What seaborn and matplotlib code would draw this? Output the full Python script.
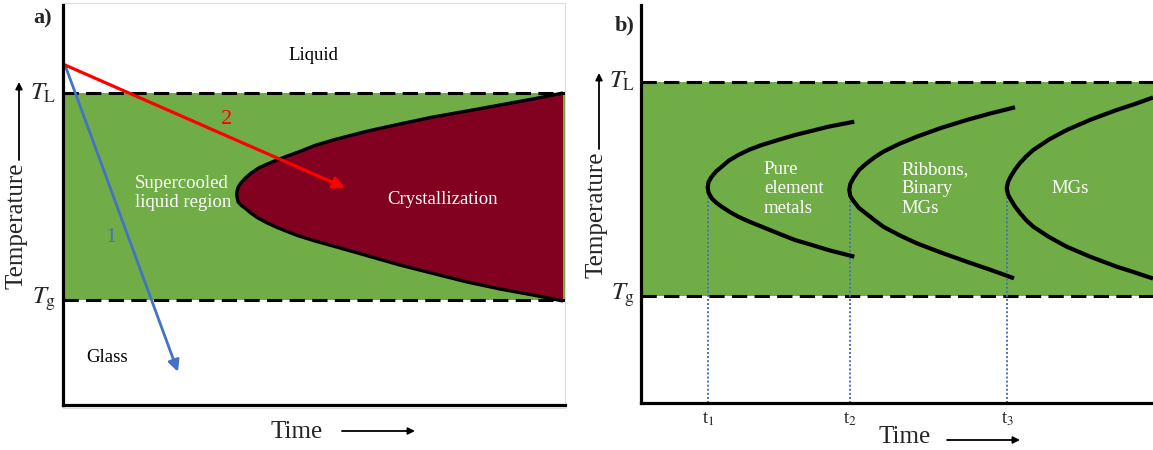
import matplotlib
matplotlib.use("Agg")
import matplotlib.pyplot as plt
import seaborn as sns
from matplotlib.patches import Rectangle

# ---------------- panel a: cooling paths across a TTT nose ----------------
TL_A = 78.0
TG_A = 26.3
nose_upper_t = [99.6, 93.6, 87.05, 80.5, 73.7, 67.1, 60.4, 53.8, 50.2, 47.0, 44.8, 42.6,
                40.7, 38.9, 37.5, 36.3, 35.5, 34.9, 34.7, 34.6]
nose_upper_T = [78.0, 76.5, 75.0, 73.5, 72.0, 70.25, 68.4, 66.25, 64.9, 63.3, 62.3, 61.25,
                60.25, 59.2, 58.0, 56.7, 55.6, 54.5, 53.6, 52.75]
nose_lower_t = [34.7, 34.9, 35.5, 36.3, 37.5, 38.9, 40.7, 42.6, 44.8, 47.0, 50.2, 53.8,
                60.4, 67.1, 73.7, 80.5, 87.05, 93.6, 99.6]
nose_lower_T = [51.75, 50.75, 49.9, 49.2, 47.9, 46.7, 45.5, 44.4, 43.3, 42.25, 41.0, 39.75,
                37.4, 35.0, 32.9, 30.75, 29.0, 27.5, 26.0]
path1_t = [0.4, 22.9]
path1_T = [85.0, 8.3]
path2_t = [0.4, 56.2]
path2_T = [85.0, 54.3]

# ---------------- panel b: critical cooling for three material classes ----------------
TL_B = 80.7
TG_B = 26.9
c1_t = [41.66, 36.58, 33.4, 30.08, 26.76, 23.57, 21.09, 19.0, 17.19, 15.76, 14.65, 13.81, 13.18,
        13.03,
        13.18, 13.81, 14.65, 15.76, 17.19, 19.0, 21.09, 23.57, 26.76, 30.08, 33.4, 36.58, 41.66]
c1_T = [70.68, 69.42, 68.39, 67.34, 66.08, 64.82, 63.62, 62.31, 60.93, 59.37, 58.17, 56.86, 55.53,
        54.20,
        52.89, 51.43, 50.38, 49.32, 48.12, 46.81, 45.60, 44.30, 42.64, 40.95, 39.70, 38.44, 36.76]
c2_t = [73.05, 68.36, 63.61, 58.59, 53.85, 50.39, 47.32, 45.70, 44.08, 42.58, 41.50, 40.88,
        40.68,
        40.88, 41.50, 42.58, 44.08, 45.70, 47.32, 50.39, 53.85, 58.59, 63.61, 68.36, 72.85]
c2_T = [74.30, 72.79, 71.11, 69.10, 66.91, 65.08, 63.14, 61.81, 60.23, 58.54, 56.53, 55.03,
        53.52,
        52.01, 50.75, 48.99, 47.49, 45.85, 44.30, 42.21, 40.13, 37.81, 35.50, 33.42, 31.33]
c3_t = [100.0, 96.48, 92.91, 87.89, 83.14, 79.69, 76.62, 75.2, 74.02, 73.05, 72.27, 71.68,
        71.43,
        71.68, 72.27, 73.05, 74.02, 75.2, 76.62, 79.69, 83.14, 87.89, 92.91, 96.48, 100.0]
c3_T = [76.76, 75.13, 73.62, 71.23, 68.59, 66.21, 63.57, 61.93, 60.30, 58.67, 57.04, 55.53,
        53.94,
        52.39, 51.01, 49.37, 47.74, 45.98, 44.30, 41.71, 39.27, 36.68, 34.25, 32.79, 31.28]
onset_t = [13.1, 40.8, 71.5]
onset_T = [52.3, 52.3, 52.3]
onset_labels = ["t$_1$", "t$_2$", "t$_3$"]
class_labels = ["Pure\nelement\nmetals", "Ribbons,\nBinary\nMGs", "MGs"]
class_t = [24.0, 50.9, 80.2]
class_T = [53.8, 53.8, 53.8]

GREEN = "#70AD47"
CRYST = "#820020"
RED = "#FF0000"
BLUE = "#4472C4"

sns.set_theme(style="white")
plt.rcParams["font.family"] = ["Liberation Serif", "DejaVu Serif"]
plt.rcParams["mathtext.fontset"] = "stix"
plt.rcParams["lines.solid_joinstyle"] = "round"
plt.rcParams["lines.solid_capstyle"] = "butt"

W, H = 1153, 450
fig = plt.figure(figsize=(W / 100, H / 100), dpi=100, facecolor="white")


def px_rect(x0, y_top, x1, y_bot):
    return [x0 / W, 1 - y_bot / H, (x1 - x0) / W, (y_bot - y_top) / H]


def style_axes(ax):
    ax.set_xlim(0, 100)
    ax.set_ylim(0, 100)
    ax.patch.set_alpha(0)
    for side in ("top", "right"):
        ax.spines[side].set_visible(False)
    for side in ("left", "bottom"):
        ax.spines[side].set_linewidth(2.3)
        ax.spines[side].set_color("black")
        ax.spines[side].set_zorder(10)
    ax.set_yticks([])
    ax.set_xlabel("")
    ax.set_ylabel("")


def band(ax, tg, tl):
    ax.axhspan(tg, tl, color=GREEN, lw=0, zorder=0)
    for lvl in (tg, tl):
        ax.axhline(lvl, color="black", lw=2.2, dashes=(5, 2.4), zorder=3)


def temp_labels(ax, tg, tl, dx):
    ax.text(dx, tl, r"$T_{\mathrm{L}}$", ha="right", va="center", fontsize=18,
            clip_on=False)
    ax.text(dx, tg, r"$T_{\mathrm{g}}$", ha="right", va="center", fontsize=18,
            clip_on=False)


# light frame around panel a
fig.add_artist(Rectangle((63 / W, 1 - 408 / H), 502 / W, 405 / H,
                         transform=fig.transFigure, fill=False,
                         ec="#dcdcdc", lw=0.8, zorder=-1))

# ---------------- panel a ----------------
ax1 = fig.add_axes(px_rect(63, 5, 565, 405))
style_axes(ax1)
ax1.set_xticks([])
band(ax1, TG_A, TL_A)

nose_t = nose_upper_t + nose_lower_t
nose_T = nose_upper_T + nose_lower_T
ax1.fill(nose_t, nose_T, color=CRYST, lw=0, zorder=1)
sns.lineplot(x=nose_t, y=nose_T, sort=False, estimator=None, color="black",
             lw=2.4, ax=ax1, zorder=4)

ax1.annotate("", xy=(path1_t[1], path1_T[1]), xytext=(path1_t[0], path1_T[0]),
             arrowprops=dict(arrowstyle="-|>", color=BLUE, lw=2.0,
                             mutation_scale=17, shrinkA=0, shrinkB=0),
             zorder=6, annotation_clip=False)
ax1.annotate("", xy=(path2_t[1], path2_T[1]), xytext=(path2_t[0], path2_T[0]),
             arrowprops=dict(arrowstyle="-|>", color=RED, lw=2.3,
                             mutation_scale=17, shrinkA=0, shrinkB=0),
             zorder=6, annotation_clip=False)

ax1.text(49.8, 87.5, "Liquid", ha="center", va="center", fontsize=13.5, color="black")
ax1.text(32.5, 71.3, "2", ha="center", va="center", fontsize=16, color=RED)
ax1.text(9.4, 41.8, "1", ha="center", va="center", fontsize=16, color=BLUE)
ax1.text(14.3, 52.9, "Supercooled\nliquid region", ha="left", va="center",
         fontsize=13.5, color="white", linespacing=1.15, zorder=7)
ax1.text(75.7, 51.5, "Crystallization", ha="center", va="center", fontsize=13.5,
         color="white", zorder=7)
ax1.text(8.8, 11.8, "Glass", ha="center", va="center", fontsize=13.5, color="black")
temp_labels(ax1, TG_A, TL_A, -1.3)

# ---------------- panel b ----------------
ax2 = fig.add_axes(px_rect(641, 5, 1153, 403))
style_axes(ax2)
band(ax2, TG_B, TL_B)
for ct, cT in ((c1_t, c1_T), (c2_t, c2_T), (c3_t, c3_T)):
    sns.lineplot(x=ct, y=cT, sort=False, estimator=None, color="black",
                 lw=3.0, ax=ax2, zorder=5)
ax2.vlines(onset_t, 0, onset_T, colors=BLUE, linestyles=(0, (1, 1.1)),
           lw=1.4, zorder=4)
ax2.set_xticks(onset_t)
ax2.set_xticklabels(onset_labels, fontsize=13.5)
ax2.tick_params(axis="x", length=0, pad=5)
for lab, x, y in zip(class_labels, class_t, class_T):
    ax2.text(x, y, lab, ha="left", va="center", fontsize=13.5, color="white",
             linespacing=1.2, zorder=7)
temp_labels(ax2, TG_B, TL_B, -1.1)

# ---------------- figure-level labels ----------------
fig.text(43 / W, 1 - 18 / H, "a)", ha="center", va="center", fontsize=16,
         fontweight="bold")
fig.text(625 / W, 1 - 25 / H, "b)", ha="center", va="center", fontsize=16,
         fontweight="bold")

for x_px, y_mid, y_top, y_tip in ((17, 226, 160, 82), (597, 215, 149, 73)):
    fig.text(x_px / W, 1 - y_mid / H, "Temperature", rotation=90,
             ha="center", va="center", fontsize=18)
    plt.annotate("", xy=(x_px + 2, H - y_tip), xytext=(x_px + 2, H - y_top),
                 xycoords="figure pixels", textcoords="figure pixels",
                 arrowprops=dict(arrowstyle="-|>", color="black", lw=1.3,
                                 mutation_scale=10, shrinkA=0, shrinkB=0))

for x_mid, y_mid, a0, a1, ay in ((297, 432, 342, 415, 431), (905, 437, 947, 1020, 440)):
    fig.text(x_mid / W, 1 - y_mid / H, "Time", ha="center", va="center", fontsize=18)
    plt.annotate("", xy=(a1, H - ay), xytext=(a0, H - ay),
                 xycoords="figure pixels", textcoords="figure pixels",
                 arrowprops=dict(arrowstyle="-|>", color="black", lw=1.3,
                                 mutation_scale=10, shrinkA=0, shrinkB=0))

fig.savefig("out.png", dpi=100, facecolor="white")
